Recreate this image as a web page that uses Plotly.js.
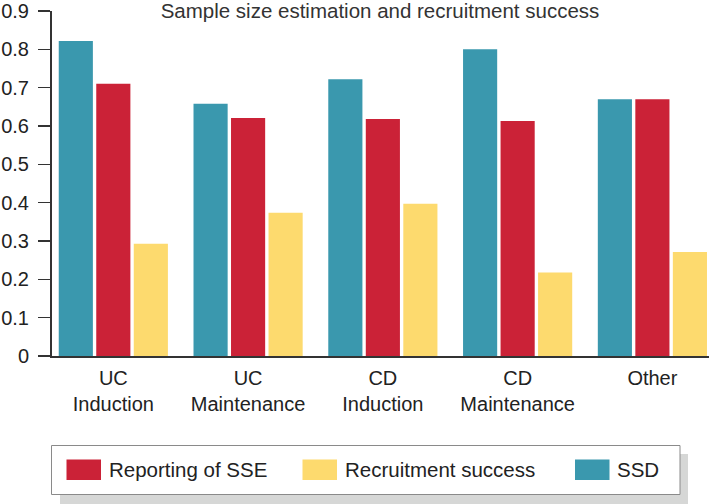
<!DOCTYPE html>
<html>
<head>
<meta charset="utf-8">
<script src="https://cdn.plot.ly/plotly-3.0.1.min.js"></script>
<style>html,body{margin:0;padding:0;background:#fff;}#chart{width:709px;height:504px;}</style>
</head>
<body>
<div id="chart"></div>
<script>
const categories = ["UC<br>Induction", "UC<br>Maintenance", "CD<br>Induction", "CD<br>Maintenance", "Other"];
const seriesNames = ["SSD", "Reporting of SSE", "Recruitment success"];
const ssd = [0.822, 0.658, 0.722, 0.800, 0.670];
const reportingSSE = [0.710, 0.621, 0.618, 0.613, 0.670];
const recruitment = [0.293, 0.374, 0.397, 0.218, 0.271];
const colors = ["#3A98AE", "#CB2237", "#FDDA6E"];
const legendOrder = [1, 2, 0];
const yTicks = [0, 0.1, 0.2, 0.3, 0.4, 0.5, 0.6, 0.7, 0.8, 0.9];

const W = 709, H = 504;
const M = {l: 52, r: 0, t: 11, b: 148};
const pw = W - M.l - M.r, ph = H - M.t - M.b;
const px = x => (x - M.l) / pw;
const py = y => (H - M.b - y) / ph;

const values = [ssd, reportingSSE, recruitment];
const traces = values.map((v, i) => ({
  type: "bar",
  x: categories,
  y: v,
  name: seriesNames[i],
  marker: {color: colors[i], line: {width: 0}},
  showlegend: false,
  hoverinfo: "skip"
}));

const font = "Liberation Sans, Arial, Helvetica, sans-serif";
const FS = 20.5;
const shapes = [];
const annotations = [];
// legend shadow & box
shapes.push({type: "rect", xref: "paper", yref: "paper", x0: px(60), x1: px(688), y0: py(454), y1: py(505), fillcolor: "#D6D7D6", line: {width: 0}, layer: "above"});
shapes.push({type: "rect", xref: "paper", yref: "paper", x0: px(51.5), x1: px(680), y0: py(445.5), y1: py(494.5), fillcolor: "#FFFFFF", line: {color: "#8A8A8A", width: 1}, layer: "above"});
const swatchX = [66.5, 302.5, 575];
legendOrder.forEach((si, k) => {
  shapes.push({type: "rect", xref: "paper", yref: "paper", x0: px(swatchX[k]), x1: px(swatchX[k] + 34.5), y0: py(459.5), y1: py(480), fillcolor: colors[si], line: {width: 0}, layer: "above"});
  annotations.push({xref: "paper", yref: "paper", x: px(swatchX[k] + 40), y: py(470), xanchor: "left", yanchor: "middle", text: seriesNames[si], showarrow: false, font: {family: font, size: FS, color: "#222"}});
});

const layout = {
  width: W, height: H,
  margin: M,
  paper_bgcolor: "#fff", plot_bgcolor: "#fff",
  font: {family: font, size: FS, color: "#222"},
  title: {text: "Sample size estimation and recruitment success", x: 380 / W, xanchor: "center", xref: "container", y: 1 - 11 / H, yanchor: "middle", yref: "container", font: {family: font, size: FS, color: "#333"}},
  barmode: "group",
  bargap: 0.165,
  bargroupgap: 0.09,
  xaxis: {type: "category", range: [-0.455, 4.42], showline: true, linecolor: "#333", linewidth: 2, ticks: "", showgrid: false, zeroline: false, tickfont: {family: font, size: 20, color: "#222"}, ticklabelstandoff: 3, fixedrange: true},
  yaxis: {range: [0, 0.9], tickvals: yTicks, ticktext: yTicks.map(String), showline: true, linecolor: "#333", linewidth: 2, ticks: "outside", ticklen: 12, tickwidth: 1.5, tickcolor: "#333", showgrid: false, zeroline: false, tickfont: {family: font, size: 20, color: "#222"}, ticklabelstandoff: 5, fixedrange: true},
  shapes: shapes,
  annotations: annotations,
  showlegend: false
};

Plotly.newPlot("chart", traces, layout, {displayModeBar: false, staticPlot: true});
</script>
</body>
</html>
